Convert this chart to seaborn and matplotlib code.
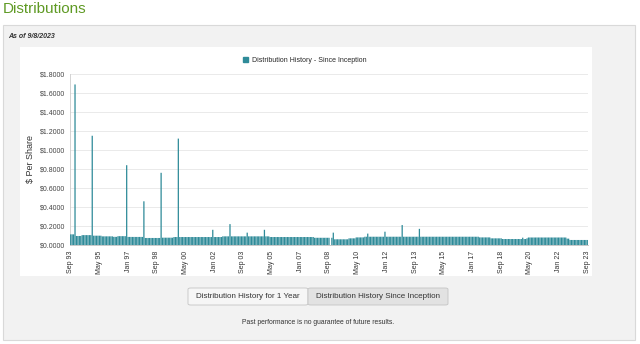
import matplotlib
matplotlib.use("Agg")
import matplotlib.pyplot as plt
import seaborn as sns
import pandas as pd
import numpy as np
from matplotlib.patches import Rectangle, FancyBboxPatch, Patch

sns.set_theme(style="white")
plt.rcParams["font.family"] = ["Liberation Sans", "DejaVu Sans"]

# ---- data: monthly distribution per share, Sep 1993 .. Sep 2023 ----
values = [
    0.112, 0.112, 0.112, 1.690, 0.095, 0.095, 0.095, 0.095, 0.104, 0.104, 0.104, 0.104,
    0.104, 0.104, 0.104, 1.150, 0.098, 0.098, 0.098, 0.098, 0.098, 0.098, 0.091, 0.091,
    0.091, 0.091, 0.091, 0.091, 0.091, 0.091, 0.086, 0.086, 0.086, 0.093, 0.093, 0.093,
    0.093, 0.093, 0.093, 0.840, 0.085, 0.085, 0.085, 0.085, 0.085, 0.085, 0.085, 0.085,
    0.085, 0.085, 0.085, 0.460, 0.074, 0.074, 0.074, 0.074, 0.074, 0.074, 0.074, 0.074,
    0.074, 0.074, 0.074, 0.760, 0.077, 0.077, 0.077, 0.077, 0.077, 0.077, 0.077, 0.077,
    0.084, 0.084, 0.084, 1.120, 0.084, 0.084, 0.084, 0.084, 0.084, 0.084, 0.084, 0.084,
    0.084, 0.084, 0.084, 0.084, 0.084, 0.084, 0.084, 0.084, 0.084, 0.084, 0.084, 0.084,
    0.084, 0.084, 0.084, 0.160, 0.084, 0.084, 0.084, 0.084, 0.084, 0.084, 0.091, 0.091,
    0.091, 0.091, 0.091, 0.220, 0.091, 0.091, 0.091, 0.091, 0.091, 0.091, 0.091, 0.091,
    0.091, 0.091, 0.091, 0.130, 0.091, 0.091, 0.091, 0.091, 0.091, 0.091, 0.091, 0.091,
    0.091, 0.091, 0.091, 0.160, 0.091, 0.091, 0.091, 0.084, 0.084, 0.084, 0.084, 0.084,
    0.084, 0.084, 0.084, 0.084, 0.084, 0.084, 0.084, 0.084, 0.084, 0.084, 0.084, 0.084,
    0.084, 0.084, 0.084, 0.084, 0.084, 0.084, 0.084, 0.084, 0.084, 0.084, 0.084, 0.084,
    0.084, 0.084, 0.076, 0.076, 0.076, 0.076, 0.076, 0.076, 0.076, 0.076, 0.076, 0.076,
    0.076, 0.000, 0.076, 0.130, 0.060, 0.060, 0.060, 0.060, 0.060, 0.060, 0.060, 0.060,
    0.060, 0.060, 0.070, 0.070, 0.070, 0.070, 0.070, 0.080, 0.080, 0.080, 0.080, 0.080,
    0.080, 0.087, 0.087, 0.120, 0.087, 0.087, 0.087, 0.087, 0.087, 0.087, 0.087, 0.087,
    0.087, 0.087, 0.087, 0.140, 0.087, 0.087, 0.087, 0.087, 0.087, 0.087, 0.087, 0.087,
    0.087, 0.087, 0.087, 0.210, 0.087, 0.087, 0.087, 0.087, 0.087, 0.087, 0.087, 0.087,
    0.087, 0.087, 0.087, 0.170, 0.087, 0.087, 0.087, 0.087, 0.087, 0.087, 0.087, 0.087,
    0.087, 0.087, 0.087, 0.087, 0.087, 0.087, 0.087, 0.087, 0.087, 0.087, 0.087, 0.087,
    0.087, 0.087, 0.087, 0.087, 0.087, 0.087, 0.087, 0.087, 0.087, 0.087, 0.087, 0.087,
    0.087, 0.087, 0.087, 0.087, 0.087, 0.087, 0.087, 0.087, 0.087, 0.080, 0.080, 0.080,
    0.080, 0.080, 0.080, 0.080, 0.080, 0.070, 0.070, 0.070, 0.070, 0.070, 0.070, 0.070,
    0.070, 0.063, 0.063, 0.063, 0.063, 0.063, 0.063, 0.063, 0.063, 0.063, 0.063, 0.063,
    0.063, 0.063, 0.063, 0.077, 0.063, 0.063, 0.070, 0.079, 0.079, 0.079, 0.079, 0.079,
    0.079, 0.079, 0.079, 0.079, 0.079, 0.079, 0.079, 0.079, 0.079, 0.079, 0.079, 0.079,
    0.079, 0.079, 0.079, 0.079, 0.079, 0.079, 0.079, 0.079, 0.079, 0.079, 0.067, 0.067,
    0.053, 0.053, 0.053, 0.053, 0.053, 0.053, 0.053, 0.053, 0.053, 0.053, 0.053, 0.053,
    0.053,
]
tick_labels = ["Sep 93", "May 95", "Jan 97", "Sep 98", "May 00", "Jan 02", "Sep 03",
               "May 05", "Jan 07", "Sep 08", "May 10", "Jan 12", "Sep 13", "May 15",
               "Jan 17", "Sep 18", "May 20", "Jan 22", "Sep 23"]
tick_step = 20
y_ticks = [0.0, 0.2, 0.4, 0.6, 0.8, 1.0, 1.2, 1.4, 1.6, 1.8]
series_name = "Distribution History - Since Inception"

df = pd.DataFrame({"month": np.arange(len(values)), "value": values})

W, H = 640, 344
fig = plt.figure(figsize=(W / 100, H / 100), dpi=100)
fig.patch.set_facecolor("white")

def fx(x):
    return x / W

def fy(y):
    return 1 - y / H

teal = "#2f8b99"

# panel backgrounds (drawn beneath the axes)
fig.patches.append(Rectangle((fx(3), fy(340)), 632 / W, 315 / H, transform=fig.transFigure,
                             facecolor="#f2f2f2", edgecolor="#d9d9d9", lw=0.8, zorder=-2))
fig.patches.append(Rectangle((fx(20), fy(276)), 572 / W, 229 / H, transform=fig.transFigure,
                             facecolor="white", edgecolor="none", zorder=-1))

ax = fig.add_axes([fx(70), fy(245), 518 / W, 171 / H])
ax.set_zorder(1)
ax.set_facecolor("none")
sns.barplot(data=df, x="month", y="value", color=teal, saturation=1, width=0.88,
            linewidth=0, ax=ax, zorder=3)
for p in ax.patches:
    p.set_snap(False)
    p.set_antialiased(True)

ax.set_xlim(-0.5, len(values) - 0.5)
ax.set_ylim(0, 1.8)
ax.set_xticks(np.arange(0, len(values), tick_step))
ax.set_xticklabels(tick_labels, rotation=90, fontsize=5, color="#333333")
ax.set_xticks(np.arange(len(values)), minor=True)
ax.tick_params(axis="x", which="major", length=2.5, width=0.5, color="#c0c0c0", pad=1.5)
ax.tick_params(axis="x", which="minor", length=2, width=0.4, color="#c8c8c8")
ax.set_yticks(y_ticks)
ax.set_yticklabels([f"${v:.4f}" for v in y_ticks], fontsize=5, color="#444444")
ax.tick_params(axis="y", length=0, pad=3.5)
ax.grid(axis="y", color="#e6e6e6", lw=0.6, zorder=0)
ax.set_axisbelow(True)
ax.set_xlabel("")
ax.set_ylabel("")
for s in ["top", "right"]:
    ax.spines[s].set_visible(False)
ax.spines["left"].set_color("#cccccc")
ax.spines["left"].set_linewidth(0.6)
ax.spines["bottom"].set_color("#c0c0c0")
ax.spines["bottom"].set_linewidth(0.6)

# texts
fig.text(fx(3), fy(9), "Distributions", color="#5f9a24", fontsize=11, va="center", ha="left")
fig.text(fx(8), fy(37), "As of 9/8/2023", color="#333333", fontsize=5, weight="bold",
         style="italic", va="center", ha="left")
fig.text(fx(31), fy(159), "$ Per Share", rotation=90, fontsize=6.5, color="#333333",
         va="center", ha="center")

fig.legend(handles=[Patch(color=teal, label=series_name)], loc="center",
           bbox_to_anchor=(fx(305), fy(60)), frameon=False, fontsize=5,
           handlelength=0.7, handleheight=0.7, handletextpad=0.6)

# buttons
for (x0, x1, label, fc) in [(188, 308, "Distribution History for 1 Year", "#f6f6f6"),
                            (308, 448, "Distribution History Since Inception", "#e2e2e2")]:
    fig.patches.append(FancyBboxPatch((fx(x0), fy(305)), (x1 - x0) / W, 17 / H,
                                      boxstyle="round,pad=0,rounding_size=0.004",
                                      transform=fig.transFigure, facecolor=fc,
                                      edgecolor="#c4c4c4", lw=0.6, zorder=1))
    fig.text(fx((x0 + x1) / 2), fy(296.5), label, fontsize=5.8, color="#333333",
             ha="center", va="center")

fig.text(fx(318), fy(323), "Past performance is no guarantee of future results.",
         fontsize=4.9, color="#333333", ha="center", va="center")

fig.savefig("out.png", dpi=100)
